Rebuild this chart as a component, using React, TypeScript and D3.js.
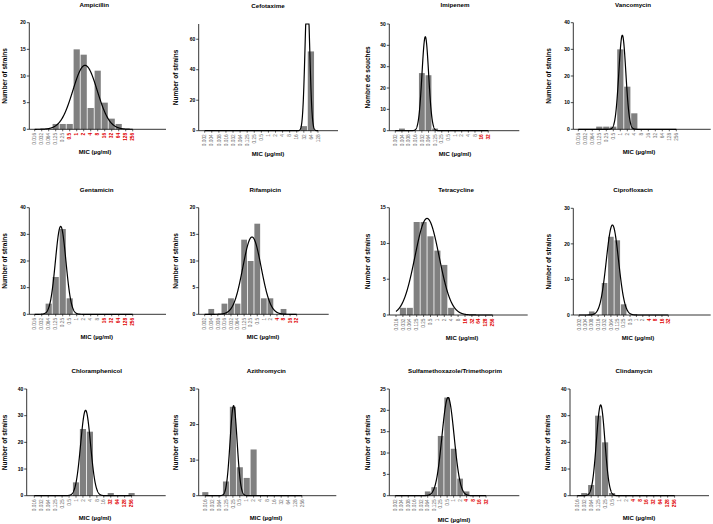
import React from 'react';
import * as d3 from 'd3';

// ---- Categories (MIC in µg/ml) ----
const micFrom0016 = ["0.016","0.032","0.064","0.125","0.25","0.5","1","2","4","8","16","32","64","128","256"];
const micFrom0002to32 = ["0.002","0.004","0.008","0.016","0.032","0.064","0.125","0.25","0.5","1","2","4","8","16","32"];
const micFrom0002to128 = ["0.002","0.004","0.008","0.016","0.032","0.064","0.125","0.25","0.5","1","2","4","8","16","32","64","128"];

// ---- Counts (number of strains) per antibiotic ----
const ampicillinCounts = [0,0,0,1,1,1,15,14,4,11,5,2,1,0,0];
const cefotaximeCounts = [0,0,0,0,0,0,0,0,0,0,0,0,0,0,3,52,0];
const imipenemCounts = [0,1,0,0,27,26,1,0,0,0,0,0,0,0,0];
const vancomycinCounts = [0,0,0,1,1,1,30,16,6,0,0,0,0,0,0];
const gentamicinCounts = [0,0,4,14,32,6,0,0,0,0,0,0,0,0,0];
const rifampicinCounts = [0,1,0,2,3,2,14,10,17,3,3,0,1,0,0];
const tetracyclineCounts = [0,1,1,13,13,11,9,7,1,0,0,0,0,0,0];
const ciprofloxacinCounts = [0,0,1,0,9,22,21,3,0,0,0,0,0,0,0];
const chloramphenicolCounts = [0,0,0,0,0,0,5,25,24,0,0,1,0,0,1];
const azithromycinCounts = [1,0,0,4,25,8,5,13,0,0,0,0,0,0,0];
const sxtCounts = [0,0,0,0,0,1,2,14,23,11,4,1,0,0,0];
const clindamycinCounts = [0,1,4,30,20,1,0,0,0,0,0,0,0,0,0];

const antibioticNames = ["Ampicillin","Cefotaxime","Imipenem","Vancomycin","Gentamicin","Rifampicin","Tetracycline","Ciprofloxacin","Chloramphenicol","Azithromycin","Sulfamethoxazole/Trimethoprim","Clindamycin"];
const yAxisTitles = ["Number of strains","Number of strains","Nombre de souches","Number of strains","Number of strains","Number of strains","Number of strains","Number of strains","Number of strains","Number of strains","Number of strains","Number of strains"];
const yAxisMax = [20,70,50,40,40,20,15,30,40,30,25,40];
const yTickStep = [5,20,10,10,10,5,5,10,10,10,5,10];
// index of first MIC label drawn in red (-1 = none)
const firstRedIndex = [5,-1,13,-1,10,11,10,11,11,-1,11,8];
// Gaussian fit parameters (peak height, centre in category index, sigma in categories)
const fitPeak = [12,90,44,35.3,33,14.5,13.5,25.3,32,25.3,23,34];
const fitCenter = [7.19,14.5,4.52,6.29,3.71,7.2,4.5,5.24,7.38,4.1,8.14,3.36];
const fitSigma = [1.74,0.33,0.5,0.5,0.75,1.4,1.75,0.96,0.71,0.51,0.94,0.61];

const categorySets = [micFrom0016, micFrom0002to128, micFrom0002to32, micFrom0016, micFrom0016, micFrom0002to32, micFrom0016, micFrom0002to32, micFrom0016, micFrom0016, micFrom0002to32, micFrom0016];
const countSets = [ampicillinCounts, cefotaximeCounts, imipenemCounts, vancomycinCounts, gentamicinCounts, rifampicinCounts, tetracyclineCounts, ciprofloxacinCounts, chloramphenicolCounts, azithromycinCounts, sxtCounts, clindamycinCounts];

// ---- Layout (pixels) ----
type Layout = { ax: number; axEnd: number; yTop: number; y0: number; c0: number; step: number; tx: number; ty: number; lx: number; ly: number; yl: number };
const layouts: Layout[] = [
  { ax: 29.3, axEnd: 166, yTop: 22.7, y0: 129.3, c0: 34.7, step: 7, tx: 94.3, ty: 5, lx: 95, ly: 151.7, yl: 5 },
  { ax: 198.7, axEnd: 338, yTop: 24, y0: 130.7, c0: 204.7, step: 7.08, tx: 268, ty: 5.7, lx: 268, ly: 154, yl: 175.5 },
  { ax: 389.3, axEnd: 519.3, yTop: 24, y0: 130.7, c0: 395.3, step: 6.64, tx: 455, ty: 5, lx: 455, ly: 154, yl: 367.7 },
  { ax: 573.3, axEnd: 710.7, yTop: 22.7, y0: 129.3, c0: 578.3, step: 7, tx: 633, ty: 5, lx: 639, ly: 151.7, yl: 549 },
  { ax: 29.3, axEnd: 166, yTop: 207.7, y0: 314.3, c0: 34.7, step: 7, tx: 96.7, ty: 190, lx: 96.7, ly: 337.3, yl: 5 },
  { ax: 198.7, axEnd: 328.7, yTop: 207.7, y0: 314.3, c0: 204.7, step: 6.57, tx: 265.3, ty: 190, lx: 263, ly: 337.3, yl: 175.5 },
  { ax: 389.3, axEnd: 527.7, yTop: 207.7, y0: 315, c0: 396, step: 6.9, tx: 456, ty: 190, lx: 462, ly: 338.3, yl: 367.7 },
  { ax: 573.3, axEnd: 710.7, yTop: 208.3, y0: 315, c0: 579, step: 6.38, tx: 633, ty: 190, lx: 638, ly: 338.3, yl: 549 },
  { ax: 26.7, axEnd: 165.7, yTop: 389, y0: 495.7, c0: 34.3, step: 6.95, tx: 96.7, ty: 370.7, lx: 95, ly: 518.3, yl: 5 },
  { ax: 198.7, axEnd: 336.3, yTop: 389, y0: 495.7, c0: 205.3, step: 6.9, tx: 266.3, ty: 370.7, lx: 266, ly: 518.3, yl: 175.5 },
  { ax: 389.3, axEnd: 519.3, yTop: 389, y0: 495.7, c0: 395.3, step: 6.48, tx: 455, ty: 370.7, lx: 454, ly: 519.5, yl: 367.7 },
  { ax: 570, axEnd: 709, yTop: 389, y0: 495.7, c0: 577.3, step: 6.95, tx: 634, ty: 370.7, lx: 639, ly: 518.3, yl: 548 },
];

const FONT = "'Liberation Sans', Arial, Helvetica, sans-serif";

function Panel({ idx }: { idx: number }) {
  const L = layouts[idx];
  const cats = categorySets[idx];
  const counts = countSets[idx];
  const n = cats.length;
  const ymax = yAxisMax[idx];
  const x = d3.scaleLinear().domain([0, n - 1]).range([L.c0, L.c0 + (n - 1) * L.step]);
  const y = d3.scaleLinear().domain([0, ymax]).range([L.y0, L.yTop]);
  const ticks = d3.range(0, ymax + 1e-9, yTickStep[idx]);
  const bw = L.step - 0.8;
  const peak = fitPeak[idx], mu = fitCenter[idx], sg = fitSigma[idx];
  const fit = (t: number) => peak * Math.exp(-((t - mu) * (t - mu)) / (2 * sg * sg));
  const samples = d3.range(0, n - 1 + 1e-9, 0.02).map((t) => [t, Math.min(fit(t), ymax)] as [number, number]);
  const line = d3.line<[number, number]>().x((d) => x(d[0])).y((d) => y(d[1]));
  const red = firstRedIndex[idx];
  const yMid = (L.y0 + L.yTop) / 2;
  return (
    <g>
      <text x={L.tx} y={L.ty} dy="0.35em" textAnchor="middle" fontFamily={FONT} fontWeight="bold" fontSize={6.2} fill="#000">{antibioticNames[idx]}</text>
      {counts.map((v, i) => v > 0 ? (
        <rect key={i} x={x(i) - bw / 2} y={y(v)} width={bw} height={L.y0 - y(v)} fill="#808080" />
      ) : null)}
      <path d={line(samples) || ''} fill="none" stroke="#000" strokeWidth={1.2} />
      <line x1={L.ax} x2={L.ax} y1={L.y0} y2={L.yTop} stroke="#000" strokeWidth={0.8} />
      <line x1={L.ax} x2={L.axEnd} y1={L.y0} y2={L.y0} stroke="#000" strokeWidth={0.8} />
      {ticks.map((t) => (
        <g key={t}>
          <line x1={L.ax - 2.5} x2={L.ax} y1={y(t)} y2={y(t)} stroke="#000" strokeWidth={0.7} />
          <text x={L.ax - 3.5} y={y(t)} dy="0.35em" textAnchor="end" fontFamily={FONT} fontWeight="bold" fontSize={5} fill="#000">{t}</text>
        </g>
      ))}
      {cats.map((c, i) => {
        const isRed = red >= 0 && i >= red;
        return (
          <g key={c}>
            <line x1={x(i)} x2={x(i)} y1={L.y0} y2={L.y0 + 2} stroke="#000" strokeWidth={0.6} />
            <text transform={`translate(${x(i)},${L.y0 + 3.5}) rotate(-90)`} dy="0.35em" textAnchor="end" fontFamily={FONT} fontSize={4.8} fontWeight={isRed ? 'bold' : 'normal'} fill={isRed ? '#e00000' : '#707070'}>{c}</text>
          </g>
        );
      })}
      <text transform={`translate(${L.yl},${yMid}) rotate(-90)`} dy="0.35em" textAnchor="middle" fontFamily={FONT} fontWeight="bold" fontSize={6.5} fill="#000">{yAxisTitles[idx]}</text>
      <text x={L.lx} y={L.ly} dy="0.35em" textAnchor="middle" fontFamily={FONT} fontWeight="bold" fontSize={6} fill="#000">MIC (µg/ml)</text>
    </g>
  );
}

export default function App() {
  return (
    <div style={{ position: 'absolute', left: 0, top: 0 }}>
      <svg width={713} height={524} viewBox="0 0 713 524" style={{ display: 'block', background: '#fff' }}>
        <rect x={0} y={0} width={713} height={524} fill="#fff" />
        {antibioticNames.map((_, i) => <Panel key={i} idx={i} />)}
      </svg>
    </div>
  );
}
